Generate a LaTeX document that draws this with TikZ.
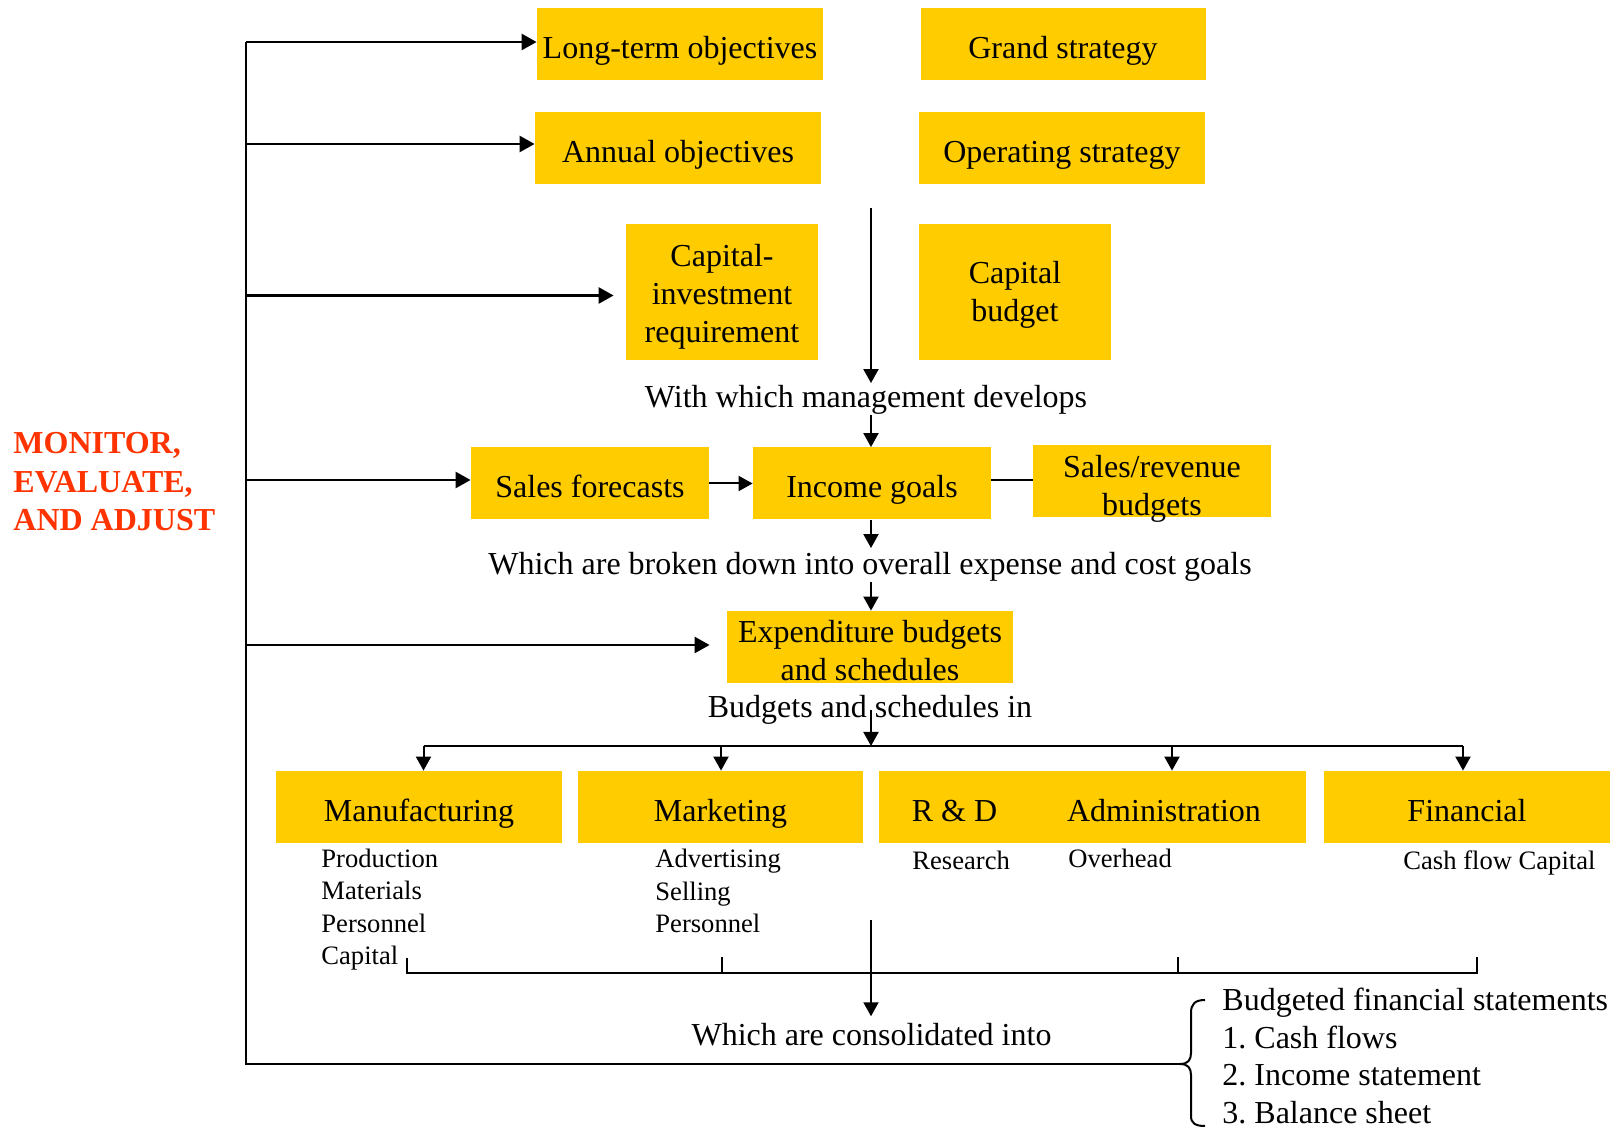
\documentclass[tikz,border=0pt]{standalone}
\usepackage{fontspec}
\setmainfont{Liberation Serif}
\usetikzlibrary{arrows.meta, calc}

\definecolor{boxyellow}{HTML}{FFCC00}
\definecolor{alertred}{HTML}{FF3300}

\tikzset{
  box/.style={fill=boxyellow, minimum height=36pt, inner sep=0pt, align=center,
    text depth=0pt, font=\fontsize{16}{19}\selectfont},
  onebox/.style={box, text height=14.2pt},
  txt/.style={inner sep=0pt, font=\fontsize{16}{19}\selectfont},
  small/.style={inner sep=0pt, align=left, anchor=west, font=\fontsize{13.3}{16.2}\selectfont},
  flow/.style={line width=1pt, -{Triangle[length=7pt,width=7.5pt]}},
  plain/.style={line width=1pt},
  loopline/.style={line width=1.3pt},
  feed/.style={line width=1.3pt, -{Triangle[length=7.5pt,width=8pt]}},
}

\begin{document}
\frenchspacing
\begin{tikzpicture}[x=0.5pt, y=-0.5pt]
\useasboundingbox (0,0) rectangle (1614,1128);

% Helper coordinates
\coordinate (loopx) at (246,0);
\coordinate (spine) at (871,0);
\coordinate (ctop) at (871,208);
\coordinate (branch) at (871,746);
\coordinate (bracetip) at (1180,1064);

% Planning boxes
\node[onebox, minimum width=143pt] (lto) at (680,44) {Long-term objectives};
\node[onebox, minimum width=142.5pt] (grand) at (1063,44) {Grand strategy};
\node[onebox, minimum width=143pt] (annual) at (678,148) {Annual objectives};
\node[onebox, minimum width=143pt] (operating) at (1062,148) {Operating strategy};
\node[box, minimum width=96pt, minimum height=68pt, text height=51pt] (capinv) at (722,292) {Capital-\\investment\\requirement};
\node[box, minimum width=96pt, minimum height=68pt, text height=30pt] (capbud) at (1015,292) {Capital\\budget};

\node[onebox, minimum width=119pt] (sales) at (590,483.5) {Sales forecasts};
\node[onebox, minimum width=119pt] (income) at (872,483.5) {Income goals};
\node[box, minimum width=119pt, text height=34.5pt] (salesrev) at (1152,481) {Sales/revenue\\budgets};
\node[box, minimum width=143pt, text height=33.5pt] (expend) at (870,647) {Expenditure budgets\\and schedules};

% Department boxes (R & D and Administration share one strip)
\node[onebox, minimum width=143pt] (manuf) at (419,807) {Manufacturing};
\node[onebox, minimum width=142.5pt] (market) at (720.5,807) {Marketing};
\node[onebox, minimum width=75.5pt] (rd) at (954.5,807) {R \& D};
\node[onebox, minimum width=142pt] (admin) at (1164,807) {Administration};
\node[onebox, minimum width=143pt] (financ) at (1467,807) {Financial};

% Connecting phrases
\node[txt] (develops) at (866,400) {With which management develops};
\node[txt] (broken) at (870,567) {Which are broken down into overall expense and cost goals};
\node[txt] (budsched) at (870,710) {Budgets and schedules in};
\node[txt] (consol) at (871.5,1035) {Which are consolidated into};

% Budget items
\node[small] (manuflist) at (321,909.5) {Production\\Materials\\Personnel\\Capital};
\node[small] (marketlist) at (655,891) {Advertising\\Selling\\Personnel};
\node[small] (rdlist) at (912,860) {Research};
\node[small] (adminlist) at (1068,858) {Overhead};
\node[small] (financlist) at (1403,862.5) {Cash flow Capital};

\node[anchor=west, inner sep=0pt, align=left, font=\fontsize{16}{18.8}\selectfont]
  (statements) at (1222,1056) {Budgeted financial statements\\1. Cash flows\\2. Income statement\\3. Balance sheet};

\node[anchor=west, inner sep=0pt, align=left, text=alertred,
  font=\bfseries\fontsize{16}{19.25}\selectfont] (monitor) at (13,482) {MONITOR,\\EVALUATE,\\AND ADJUST};

% Main downward flow
\draw[flow, shorten >=1pt] (ctop) -- (spine |- develops.north);
\draw[flow] (spine |- develops.south) -- (spine |- income.north);
\draw[flow] (sales.east) -- (income.west);
\draw[plain] ($(income.east)+(0,-3)$) -- ($(income.east -| salesrev.west)+(0,-3)$);
\draw[flow, shorten >=2pt] (spine |- income.south) -- (spine |- broken.north);
\draw[flow] (spine |- broken.south) -- (spine |- expend.north);
\draw[flow] (spine |- budsched.center) -- (branch);

% Branch to the departments
\draw[plain] (423.5,746) -- (1463,746);
\foreach \x/\n in {423.5/manuf, 721/market, 1172/admin, 1463/financ}
  \draw[flow] (\x,746) -- (\x,746 |- \n.north);

% Collecting bracket under the departments
\draw[plain] (407,958) -- (407,973) -- (1477,973) -- (1477,957);
\foreach \x in {721.6, 1177.5}
  \draw[plain] (\x,957) -- (\x,973);
\draw[flow, shorten >=3.5pt] (spine |- 0,920) -- (spine |- consol.north);

% Brace round the statements
\draw[plain] (1205,1000) .. controls (1195,1000) and (1191,1004) .. (1191,1013)
  -- (1191,1053) .. controls (1191,1060) and (1188,1064) .. (bracetip)
  .. controls (1188,1064) and (1191,1068) .. (1191,1075)
  -- (1191,1116) .. controls (1191,1123) and (1195,1126) .. (1205,1126);

% Feedback loop
\draw[loopline] (loopx |- 0,42) -- (loopx |- bracetip) -- (bracetip);
\foreach \n/\dy/\s in {lto/-2/0pt, annual/-4/0pt, capinv/3.5/6pt, sales/-3.5/0pt, expend/-2/8.5pt}
  \draw[feed, shorten >=\s] ($(loopx |- \n.west)+(0,\dy)$) -- ($(\n.west)+(0,\dy)$);

\end{tikzpicture}
\end{document}
